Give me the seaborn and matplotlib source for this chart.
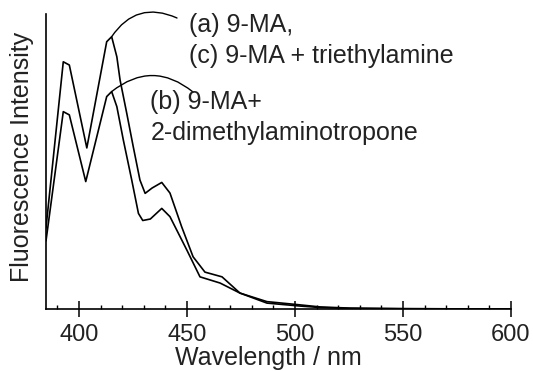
import matplotlib
matplotlib.use("Agg")
import matplotlib.pyplot as plt
import seaborn as sns
import pandas as pd
from matplotlib.ticker import MultipleLocator

# ---- data ----
wl_ac = [384.7, 392.7, 395.5, 403.6, 412.8, 415.1, 417.5, 419.0, 422.1, 425.1,
         428.2, 430.6, 433.8, 438.3, 442.1, 447.5, 452.8, 458.3, 466.2, 474.5,
         487.0, 502.3, 511.6, 525.5, 550.0, 600.0]
int_ac = [27.5, 83.8, 82.7, 54.6, 90.6, 92.3, 85.5, 77.6, 66.3, 55.0,
          43.7, 39.2, 41.0, 42.9, 39.3, 27.9, 17.7, 12.5, 10.9, 5.4,
          2.5, 1.4, 0.7, 0.3, 0.1, 0.0]

wl_b = [384.7, 392.7, 395.5, 403.1, 412.8, 415.1, 417.5, 420.5, 424.4, 427.5,
        429.5, 433.0, 438.3, 442.1, 449.9, 456.0, 465.3, 474.5, 487.0, 502.3,
        511.6, 525.5, 550.0, 600.0]
int_b = [23.1, 66.9, 65.8, 43.2, 72.0, 73.7, 68.6, 57.3, 43.7, 32.4,
         30.0, 30.5, 34.1, 31.3, 20.0, 10.9, 8.8, 5.4, 2.0, 1.0,
         0.5, 0.2, 0.1, 0.0]

xticks = [400, 450, 500, 550, 600]
label_ac = "(a) 9-MA,\n(c) 9-MA + triethylamine"
label_b_lines = ["(b) 9-MA+", "2-dimethylaminotropone"]
label_ac_lines = ["(a) 9-MA,", "(c) 9-MA + triethylamine"]

sns.set_style("ticks")
plt.rcParams['font.family'] = ['Liberation Sans', 'DejaVu Sans']

W, H = 533, 371
fig = plt.figure(figsize=(W / 100, H / 100), dpi=100)
ax = fig.add_axes([46 / W, 1 - 309 / H, (511 - 46) / W, (309 - 14) / H])

df_ac = pd.DataFrame({"wl": wl_ac, "I": int_ac})
df_b = pd.DataFrame({"wl": wl_b, "I": int_b})
sns.lineplot(data=df_ac, x="wl", y="I", ax=ax, color="black", lw=1.2, sort=False)
sns.lineplot(data=df_b, x="wl", y="I", ax=ax, color="black", lw=1.2, sort=False)

ax.set_xlim(384.7, 600)
ax.set_ylim(0, 100)
ax.set_yticks([])
ax.set_xticks(xticks)
ax.set_xticklabels([str(t) for t in xticks], fontsize=17, color="#222222")
ax.xaxis.set_minor_locator(MultipleLocator(10))
ax.tick_params(axis="x", which="major", direction="inout", length=11.5, width=1.1, pad=5, color="black")
ax.tick_params(axis="x", which="minor", direction="in", length=3, width=1.0, color="black")
sns.despine(ax=ax, top=True, right=True)
for s in ("left", "bottom"):
    ax.spines[s].set_linewidth(1.2)
    ax.spines[s].set_color("black")
ax.set_xlabel("")
ax.set_ylabel("")

fig.text(268 / W, 1 - 358 / H, "Wavelength / nm", fontsize=18, ha="center", va="center", color="#222222")
fig.text(22 / W, 1 - 157 / H, "Fluorescence Intensity", fontsize=18, ha="center", va="center",
         rotation=90, color="#222222")

# annotation texts
fig.text(189 / W, 1 - 25 / H, label_ac_lines[0], fontsize=18, ha="left", va="center", color="#222222")
fig.text(189 / W, 1 - 55.5 / H, label_ac_lines[1], fontsize=18, ha="left", va="center", color="#222222")
fig.text(150 / W, 1 - 102.5 / H, label_b_lines[0], fontsize=18, ha="left", va="center", color="#222222")
fig.text(151 / W, 1 - 133 / H, label_b_lines[1], fontsize=18, ha="left", va="center", color="#222222")

# leader arcs from the peaks
i_ac = int_ac.index(max(int_ac))
i_b = int_b.index(max(int_b))
ax.annotate("", xy=(177, H - 18), xycoords="figure pixels",
            xytext=(wl_ac[i_ac], int_ac[i_ac]), textcoords="data",
            arrowprops=dict(arrowstyle="-", connectionstyle="arc3,rad=-0.42",
                            lw=1.0, color="black", shrinkA=0, shrinkB=0))
ax.annotate("", xy=(193, H - 92), xycoords="figure pixels",
            xytext=(wl_b[i_b], int_b[i_b]), textcoords="data",
            arrowprops=dict(arrowstyle="-", connectionstyle="arc3,rad=-0.4",
                            lw=1.0, color="black", shrinkA=0, shrinkB=0))

fig.savefig("out.png", dpi=100, facecolor="white")
